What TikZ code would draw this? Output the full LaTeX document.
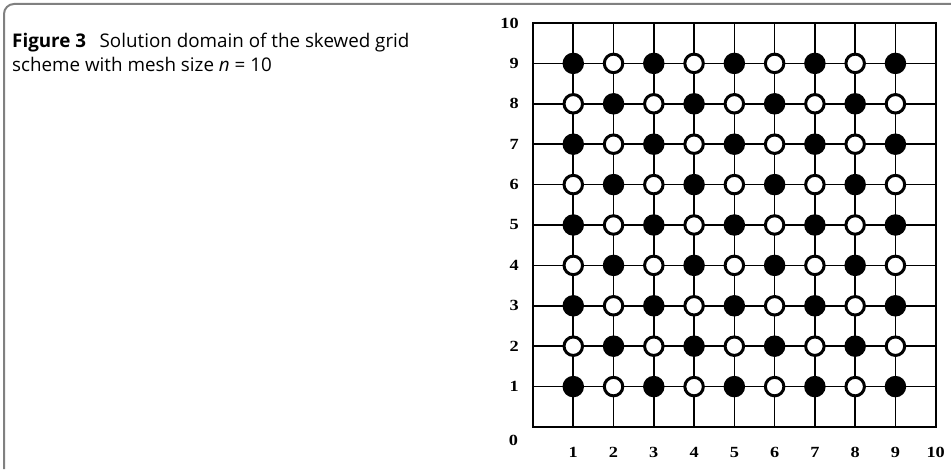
\documentclass[tikz,border=0pt]{standalone}
\usepackage{fontspec}
\setmainfont{Open Sans}
\newfontfamily\numfont{Liberation Serif}
\usetikzlibrary{positioning}
\definecolor{framegray}{RGB}{128,128,128}
\newcommand{\widenum}[1]{\scalebox{1.18}[1]{#1}}

\begin{document}
\begin{tikzpicture}[x=1pt, y=1pt,
    dot/.style={circle, fill=black, inner sep=0pt, minimum size=21.5pt},
    hollow/.style={circle, draw=black, fill=white, line width=3pt, inner sep=0pt, minimum size=18.5pt},
    numlab/.style={font=\numfont\bfseries\fontsize{15.5}{15.5}\selectfont, inner sep=0pt}]
    \useasboundingbox (0,0) rectangle (951,469);
    % frame and caption
    \draw[framegray, line width=2pt, rounded corners=10pt] (4,0) -- (4,465) -- (951,465);
    \node[anchor=base west, align=left, inner sep=0pt, font=\fontsize{18.8}{24}\selectfont] (caption) at (12,397.3)
        {\textbf{Figure 3}\hspace{0.72em}Solution domain of the skewed grid\\scheme with mesh size \textit{n} = 10};
    % grid
    \begin{scope}[shift={(533,42)}, x=40.27pt, y=40.4pt]
        \draw[line width=1.6pt] (0,0) rectangle (10,10);
        \foreach \k in {1,...,9} {
            \draw[line width=1.6pt] (\k,0) -- (\k,10);
            \draw[line width=1.6pt] (0,\k) -- (10,\k);
        }
        % points
        \foreach \i in {1,...,9} {
            \foreach \j in {1,...,9} {
                \pgfmathtruncatemacro{\parity}{mod(\i+\j,2)}
                \ifnum\parity=0
                    \node[dot] (p-\i-\j) at (\i,\j) {};
                \else
                    \node[hollow] (p-\i-\j) at (\i,\j) {};
                \fi
            }
        }
        % axis numbers
        \node[numlab, anchor=east] (y0) at (-0.37,-0.32) {\widenum{0}};
        \foreach \k in {1,...,10} {
            \node[numlab, anchor=east] (y\k) at (-0.35,\k) {\widenum{\k}};
            \node[numlab] (x\k) at (\k,-0.64) {\widenum{\k}};
        }
    \end{scope}
\end{tikzpicture}
\end{document}
